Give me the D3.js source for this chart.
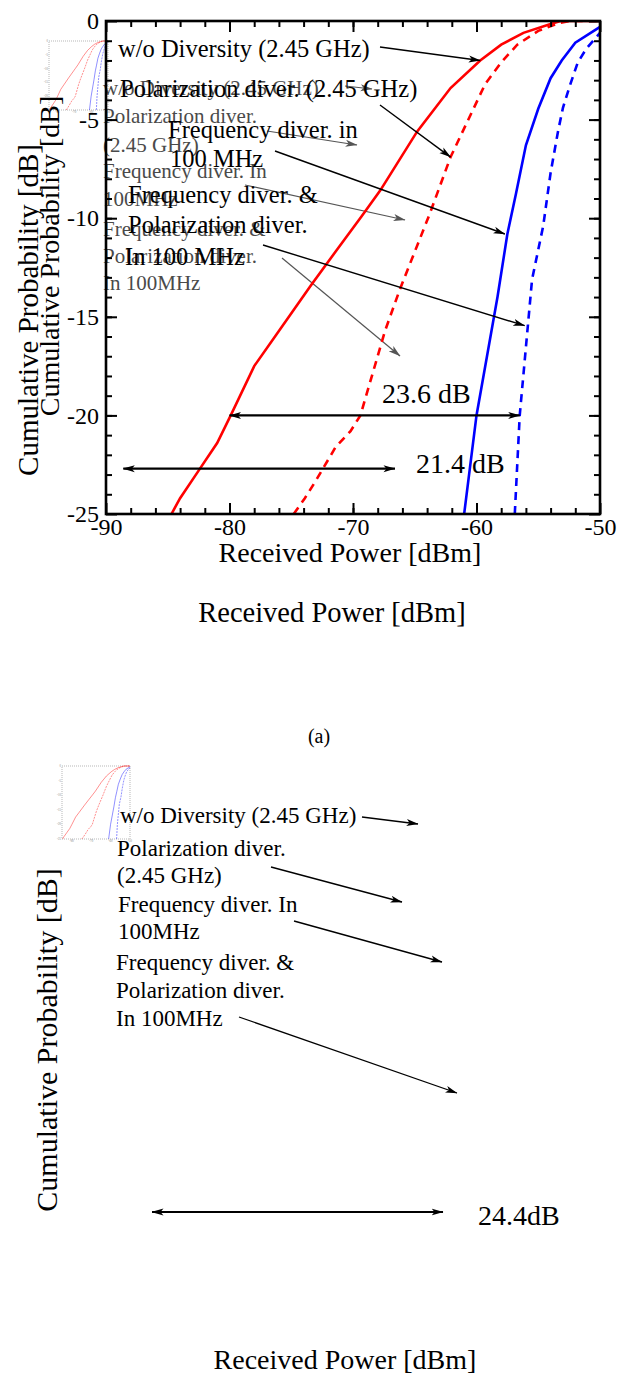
<!DOCTYPE html>
<html>
<head>
<meta charset="utf-8">
<script src="https://cdnjs.cloudflare.com/ajax/libs/d3/7.8.5/d3.min.js"></script>
<style>
body{margin:0;background:#fff;}
svg text{font-family:"Liberation Serif","Times New Roman",serif;}
</style>
</head>
<body>
<div id="graph"></div>
<script>
// ---- data (x: received power dBm, y: cumulative prob. dB)
var x_ticks = [-90,-80,-70,-60,-50];
var y_ticks = [0,-5,-10,-15,-20,-25];

var wo_div = [[-84.7,-25],[-84.0,-24.2],[-82.5,-22.8],[-81.0,-21.4],[-79.9,-20],[-78.0,-17.5],[-76.2,-15.9],[-73.4,-13.4],
              [-71.3,-11.6],[-69.3,-9.9],[-67.8,-8.6],[-64.8,-5.6],[-62.1,-3.4],[-59.7,-2.0],[-58.0,-1.2],[-56.2,-0.6],
              [-54.0,-0.15],[-53.2,0],[-50,0]];
var pol_div = [[-74.8,-25],[-73.9,-24.2],[-73.0,-23.3],[-71.4,-21.6],[-70.2,-20.8],[-69.4,-20],[-67.4,-15.7],[-66.2,-13.6],
               [-63.8,-9.8],[-62.1,-6.9],[-59.3,-3.2],[-58.0,-2.1],[-56.7,-1.2],[-55.0,-0.5],[-53.3,-0.1],[-52.5,0],[-50,0]];
var freq_div = [[-61.0,-25],[-60.0,-20],[-58.3,-14.0],[-57.5,-10.8],[-56.8,-8.75],[-56.0,-6.3],[-55.0,-4.45],[-54.0,-2.9],
                [-53.1,-2.0],[-52.0,-1.1],[-50,-0.3]];
var freq_pol_div = [[-56.9,-25],[-56.7,-22.5],[-56.5,-20],[-55.5,-13.1],[-54.6,-10.4],[-54.0,-7.7],[-53.4,-5.6],[-53.0,-4.4],
                    [-52.4,-3.2],[-51.8,-2.1],[-51.1,-1.4],[-50,-0.6]];

var series_names = ['w/o Diversity (2.45 GHz)','Polarization diver. (2.45 GHz)','Frequency diver. in 100 MHz','Frequency diver. & Polarization diver. In 100 MHz'];
var main_label_lines = [['w/o Diversity (2.45 GHz)'],['Polarization diver. (2.45 GHz)'],['Frequency diver. in','100 MHz'],['Frequency diver. &','Polarization diver.','In 100 MHz']];
var small_label_lines = [['w/o Diversity (2.45 GHz)'],['Polarization diver.','(2.45 GHz)'],['Frequency diver. In','100MHz'],['Frequency diver. &','Polarization diver.','In 100MHz']];
var gap_labels = ['23.6 dB','21.4 dB','24.4dB'];
var x_title = 'Received Power [dBm]';
var y_title = 'Cumulative Probability [dB]';
var caption = '(a)';

// ---- layout
var W = 624, H = 1374;
var Plot = {left:106, right:600, top:21, bottom:514};
var serif = '"Liberation Serif","Times New Roman",serif';
var series_styles = [{c:'#ff0000',dash:null},{c:'#ff0000',dash:'8,6'},{c:'#0000ff',dash:null},{c:'#0000ff',dash:'8,6'}];
var all_series = [wo_div,pol_div,freq_div,freq_pol_div];
var plain = d=>String(d);   // keep the hyphen-minus of the original labels

var svg = d3.select('#graph').append('svg')
            .attr('width',W).attr('height',H)
            .style('background','#fff');

var defs = svg.append('defs');
function addMarker(id,color,orient){
  defs.append('marker').attr('id',id)
      .attr('viewBox','0 0 12 8').attr('refX',11.5).attr('refY',4)
      .attr('markerWidth',12).attr('markerHeight',8)
      .attr('markerUnits','userSpaceOnUse').attr('orient',orient)
      .append('path').attr('d','M0,0.5 L12,4 L0,7.5 L3,4 Z').attr('fill',color);
}
addMarker('head_black','#000','auto');
addMarker('head_gray','#555','auto');
addMarker('head_both','#000','auto-start-reverse');

defs.append('clipPath').attr('id','plot_clip')
    .append('rect').attr('x',Plot.left).attr('y',Plot.top)
    .attr('width',Plot.right-Plot.left).attr('height',Plot.bottom-Plot.top);

var x = d3.scaleLinear().domain([-90,-50]).range([Plot.left,Plot.right]);
var y = d3.scaleLinear().domain([0,-25]).range([Plot.top,Plot.bottom]);

// ---- small thumbnails (a shrunk copy of the curves)
function drawThumb(x0,y0,w,h){
  var tx = d3.scaleLinear().domain([-85,-50]).range([x0,x0+w]);
  var ty = d3.scaleLinear().domain([0,-25]).range([y0,y0+h]);
  var g = svg.append('g').attr('class','thumb');
  g.append('rect').attr('x',x0).attr('y',y0).attr('width',w).attr('height',h)
   .attr('fill','#fff').attr('stroke','#999').attr('stroke-width',0.7).attr('stroke-dasharray','1,1');
  g.selectAll('.tk').data(y_ticks).enter().append('text')
   .attr('x',x0-1).attr('y',d=>ty(d)+1).attr('text-anchor','end')
   .attr('font-size',3).attr('fill','#888').text(plain);
  g.selectAll('.tkx').data([-80,-70,-60,-50]).enter().append('text')
   .attr('x',d=>tx(d)).attr('y',y0+h+3).attr('text-anchor','middle')
   .attr('font-size',3).attr('fill','#888').text(plain);
  var tl = d3.line().x(d=>tx(Math.max(d[0],-85))).y(d=>ty(d[1]));
  all_series.forEach(function(s,i){
    g.append('path').attr('d',tl(s)).attr('fill','none')
     .attr('stroke',series_styles[i].c).attr('stroke-opacity',0.55).attr('stroke-width',0.8)
     .attr('stroke-dasharray',series_styles[i].dash?'2,1':null);
  });
}
drawThumb(49,41,59,69);
drawThumb(62,766,68,73);

// ---- top panel: gray ghost labels (behind everything else)
var ghost_pos = [{x:[103],y:[95]},{x:[103,103],y:[123,152]},{x:[103,103],y:[178,206]},{x:[103,103,103],y:[236,263,290]}];
var ghost_arrows = [[[345,86],[372,89]],[[267,131],[357,145]],[[245,185],[405,220]],[[282,258],[400,356]]];

function drawLabel(g,lines,pos,size,color){
  var t = g.append('text').attr('font-size',size).attr('fill',color);
  lines.forEach(function(s,i){
    t.append('tspan').attr('x',pos.x[i]).attr('y',pos.y[i]).text(s);
  });
}
function drawArrow(g,p0,p1,color,marker,width){
  g.append('line').attr('x1',p0[0]).attr('y1',p0[1]).attr('x2',p1[0]).attr('y2',p1[1])
   .attr('stroke',color).attr('stroke-width',width).attr('marker-end',`url(#${marker})`);
}

var ghost = svg.append('g').attr('class','ghost');
small_label_lines.forEach(function(lines,i){
  drawLabel(ghost,lines,ghost_pos[i],21,'#4a4a4a');
  drawArrow(ghost,ghost_arrows[i][0],ghost_arrows[i][1],'#555','head_gray',1.2);
});

// ---- curves
var line = d3.line().x(d=>x(d[0])).y(d=>y(d[1]));
svg.append('g').attr('clip-path','url(#plot_clip)')
   .selectAll('path').data(all_series).enter().append('path')
   .attr('d',line).attr('fill','none')
   .attr('stroke',(d,i)=>series_styles[i].c)
   .attr('stroke-width',2.6)
   .attr('stroke-dasharray',(d,i)=>series_styles[i].dash);

// ---- axes: labelled left/bottom, bare right/top, ticks inward
function styleAxis(g){
  g.select('.domain').remove();
  g.selectAll('.tick line').attr('stroke','#000').attr('stroke-width',2);
  g.selectAll('.tick text').attr('font-family',serif).attr('font-size',24).attr('fill','#000');
}
var y_minor = d3.range(-24,0,1);
var x_minor = d3.range(-88,-50,2);

svg.append('g').attr('transform',`translate(${Plot.left},0)`)
   .call(d3.axisLeft(y).tickValues(y_minor).tickSize(-6).tickFormat('')).call(styleAxis);
svg.append('g').attr('transform',`translate(${Plot.left},0)`)
   .call(d3.axisLeft(y).tickValues(y_ticks).tickSize(-11).tickPadding(7).tickFormat(plain)).call(styleAxis);
svg.append('g').attr('transform',`translate(${Plot.right},0)`)
   .call(d3.axisRight(y).tickValues(y_minor).tickSize(-6).tickFormat('')).call(styleAxis);
svg.append('g').attr('transform',`translate(${Plot.right},0)`)
   .call(d3.axisRight(y).tickValues(y_ticks).tickSize(-11).tickFormat('')).call(styleAxis);
svg.append('g').attr('transform',`translate(0,${Plot.bottom})`)
   .call(d3.axisBottom(x).tickValues(x_minor).tickSize(-6).tickFormat('')).call(styleAxis);
svg.append('g').attr('transform',`translate(0,${Plot.bottom})`)
   .call(d3.axisBottom(x).tickValues(x_ticks).tickSize(-11).tickPadding(4).tickFormat(plain)).call(styleAxis);
svg.append('g').attr('transform',`translate(0,${Plot.top})`)
   .call(d3.axisTop(x).tickValues(x_minor).tickSize(-6).tickFormat('')).call(styleAxis);
svg.append('g').attr('transform',`translate(0,${Plot.top})`)
   .call(d3.axisTop(x).tickValues(x_ticks).tickSize(-11).tickFormat('')).call(styleAxis);

svg.append('rect').attr('x',Plot.left).attr('y',Plot.top)
   .attr('width',Plot.right-Plot.left).attr('height',Plot.bottom-Plot.top)
   .attr('fill','none').attr('stroke','#000').attr('stroke-width',2.6);

// ---- main labels with arrows onto the curves
var main_pos = [{x:[118],y:[57]},{x:[120],y:[97]},{x:[168,170],y:[138,167]},{x:[128,128,125],y:[203,233,265]}];
var main_arrow_from = [[380,47],[380,105],[275,151],[263,245]];
// arrow tips sit on the curves, given in data units
var main_arrow_tip = [[-59.7,-2.0],[-62.1,-6.9],[-57.7,-10.8],[-56.1,-15.45]];

var labels = svg.append('g').attr('class','labels');
main_label_lines.forEach(function(lines,i){
  drawLabel(labels,lines,main_pos[i],24.5,'#000');
  drawArrow(labels,main_arrow_from[i],[x(main_arrow_tip[i][0]),y(main_arrow_tip[i][1])],'#000','head_black',1.4);
});

// ---- gap arrows (data units)
var gap_arrows = [{x0:-80,x1:-56.5,y:-20},{x0:-88.6,x1:-66.6,y:-22.7}];
var gap_text_pos = [[382,403],[416,473]];
gap_arrows.forEach(function(a,i){
  svg.append('line').attr('x1',x(a.x0)).attr('x2',x(a.x1)).attr('y1',y(a.y)).attr('y2',y(a.y))
     .attr('stroke','#000').attr('stroke-width',2.2)
     .attr('marker-start','url(#head_both)').attr('marker-end','url(#head_both)');
  svg.append('text').attr('x',gap_text_pos[i][0]).attr('y',gap_text_pos[i][1])
     .attr('font-size',28).text(gap_labels[i]);
});

// ---- axis titles (two stacked copies on the left, as in the figure)
svg.append('text').attr('transform','translate(38,310) rotate(-90)').attr('text-anchor','middle')
   .attr('font-size',29).text(y_title);
svg.append('text').attr('transform','translate(59,256) rotate(-90)').attr('text-anchor','middle')
   .attr('font-size',28).text(y_title);
svg.append('text').attr('x',350).attr('y',562).attr('text-anchor','middle').attr('font-size',28).text(x_title);
svg.append('text').attr('x',332).attr('y',622).attr('text-anchor','middle').attr('font-size',28.5).text(x_title);
svg.append('text').attr('x',319).attr('y',743).attr('text-anchor','middle').attr('font-size',20).text(caption);

// ---- lower panel: labels and arrows only
var low_pos = [{x:[120],y:[823]},{x:[117,117],y:[856,883]},{x:[118,118],y:[912,939]},{x:[116,116,116],y:[970,998,1026]}];
var low_arrows = [[[362,817],[418,824]],[[271,867],[402,902]],[[294,921],[442,962]],[[239,1017],[457,1093]]];
var low = svg.append('g').attr('class','lower');
small_label_lines.forEach(function(lines,i){
  drawLabel(low,lines,low_pos[i],23,'#000');
  drawArrow(low,low_arrows[i][0],low_arrows[i][1],'#000','head_black',1.3);
});
low.append('line').attr('x1',152).attr('x2',443).attr('y1',1212).attr('y2',1212)
   .attr('stroke','#000').attr('stroke-width',2)
   .attr('marker-start','url(#head_both)').attr('marker-end','url(#head_both)');
low.append('text').attr('x',478).attr('y',1225).attr('font-size',28).text(gap_labels[2]);
low.append('text').attr('transform','translate(57,1040) rotate(-90)').attr('text-anchor','middle')
   .attr('font-size',30).text(y_title);
low.append('text').attr('x',345).attr('y',1369).attr('text-anchor','middle').attr('font-size',28).text(x_title);
</script>
</body>
</html>
